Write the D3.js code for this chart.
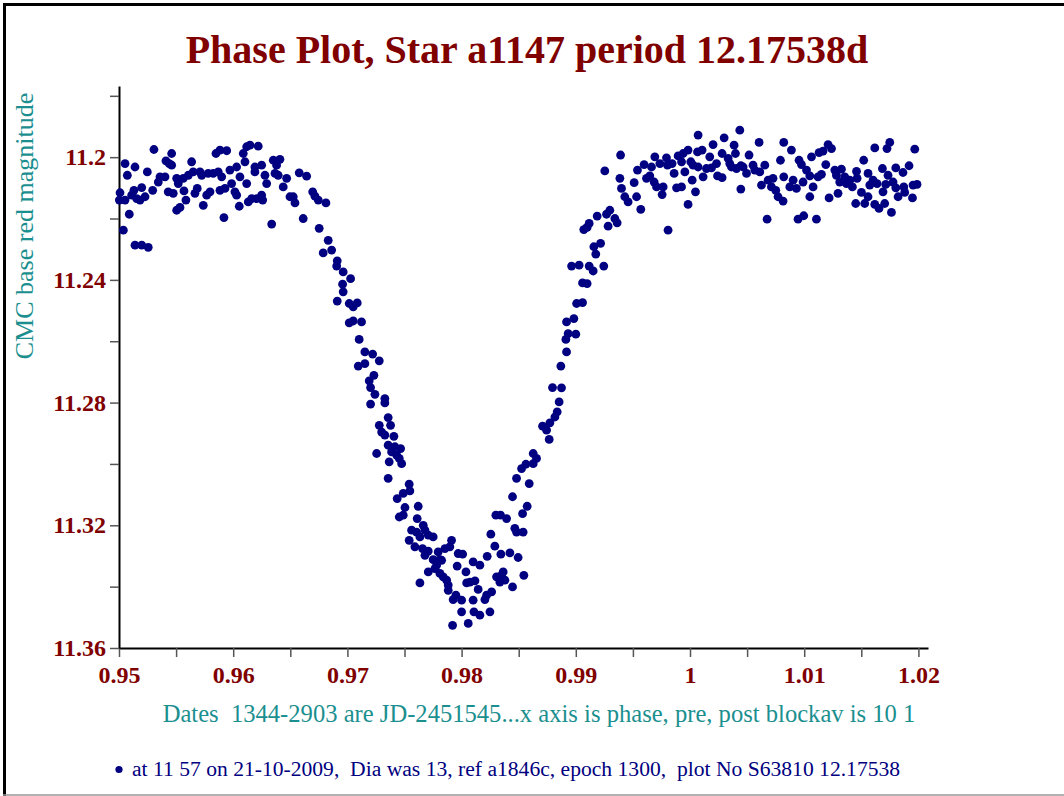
<!DOCTYPE html>
<html>
<head>
<meta charset="utf-8">
<script src="https://cdn.jsdelivr.net/npm/d3@7"></script>
<style>
    body { margin: 0; background: #fff; overflow: hidden; }
    svg { display: block; }
    text { font-family: "Liberation Serif", "Times New Roman", serif; }
</style>
</head>
<body>
<svg id="chart"></svg>
<script>
    const width = 1064;
    const height = 796;

    const title = "Phase Plot, Star a1147 period 12.17538d";
    const yLabel = "CMC base red magnitude";
    const xLabel = "Dates  1344-2903 are JD-2451545...x axis is phase, pre, post blockav is 10 1";
    const footer = "at 11 57 on 21-10-2009,  Dia was 13, ref a1846c, epoch 1300,  plot No S63810 12.17538";

    const xTicks = [0.95, 0.955, 0.96, 0.965, 0.97, 0.975, 0.98, 0.985, 0.99, 0.995, 1, 1.005, 1.01, 1.015, 1.02];
    const xTickLabels = ["0.95", "0.96", "0.97", "0.98", "0.99", "1", "1.01", "1.02"];
    const yTicks = [11.18, 11.2, 11.22, 11.24, 11.26, 11.28, 11.3, 11.32, 11.34, 11.36];
    const yTickLabels = ["11.2", "11.24", "11.28", "11.32", "11.36"];

    // [phase, magnitude]
    const plateauLeft = [
        [0.95009,11.2116],[0.95003,11.2140],[0.95053,11.2140],[0.95038,11.2238],[0.95053,11.2021],[0.95073,11.2059],
        [0.9509,11.2186],[0.95111,11.2124],[0.9514,11.2032],[0.95131,11.2108],[0.95155,11.2135],[0.95184,11.2140],
        [0.95199,11.2099],[0.95228,11.2129],[0.95248,11.2048],[0.95295,11.2108],[0.95306,11.1975],[0.95344,11.2081],
        [0.95359,11.2064],[0.95403,11.2064],[0.95411,11.2012],[0.9544,11.2021],[0.95461,11.1988],[0.95461,11.2026],
        [0.95431,11.2113],[0.95475,11.2118],[0.9514,11.2287],[0.95199,11.2287],[0.95256,11.2294],[0.95505,11.2069],
        [0.95519,11.2086],[0.95505,11.2173],[0.95534,11.2164],[0.95563,11.2069],[0.95569,11.211],[0.95586,11.214],
        [0.95607,11.2059],[0.95636,11.2015],[0.9565,11.2048],[0.95665,11.2118],[0.95685,11.2102],[0.95709,11.2048],
        [0.95724,11.2059],[0.95738,11.2157],[0.95768,11.2124],[0.95781,11.2053],[0.95797,11.2113],[0.95825,11.2053],
        [0.95849,11.1988],[0.95869,11.2048],[0.95884,11.1977],[0.95899,11.2064],[0.95884,11.2108],[0.95919,11.2197],
        [0.95943,11.1979],[0.95928,11.2102],[0.95971,11.2042],[0.95986,11.2086],[0.96015,11.2113],[0.9603,11.2032],
        [0.9603,11.2124],[0.96053,11.216],[0.96059,11.2064],[0.96088,11.1988],[0.96103,11.2015],[0.96118,11.2086],
        [0.96118,11.1966],[0.96147,11.1961],[0.96132,11.2146],[0.96162,11.2135],[0.9619,11.2032],[0.9619,11.2048],
        [0.96219,11.1964],[0.96205,11.2135],[0.96249,11.2026],[0.96249,11.2124],[0.96258,11.214],[0.96278,11.2059],
        [0.96293,11.2086],[0.96337,11.2218],[0.96351,11.201],[0.96366,11.2053],[0.9638,11.2026],[0.96409,11.2007],
        [0.96394,11.2059],[0.96438,11.2097],[0.96468,11.2069],[0.96497,11.2129],[0.96526,11.2129],[0.96541,11.2149],
        [0.96578,11.2051],[0.96643,11.2062],[0.96613,11.22],[0.96696,11.2113],[0.96716,11.2127],[0.96753,11.2232],
        [0.96812,11.2149],[0.96832,11.2271],[0.96788,11.2312],[0.96745,11.214]
    ];

    const descent = [
        [0.96862,11.2303],[0.96911,11.2338],[0.96906,11.2355],[0.96963,11.2374],[0.97028,11.2396],[0.96958,11.2414],
        [0.96963,11.2439],[0.96911,11.2469],[0.97016,11.2477],[0.97051,11.2488],[0.97086,11.2475],[0.97051,11.2534],
        [0.97016,11.254],[0.97124,11.2537],[0.97103,11.2594],[0.97153,11.2635],[0.97221,11.2642],[0.97279,11.2664],
        [0.97153,11.2673],[0.97095,11.2681],[0.97232,11.2711],[0.97191,11.2729],[0.97203,11.2751],[0.97241,11.2773],
        [0.97328,11.2787],[0.97328,11.2801],[0.97203,11.2805],[0.97357,11.2849]
    ];

    const minimum = [
        [0.97378,11.2874],[0.97279,11.2874],[0.973,11.2896],[0.97328,11.2906],[0.97407,11.291],[0.97357,11.2939],
        [0.97416,11.2944],[0.97466,11.295],[0.97256,11.2966],[0.97387,11.2961],[0.97431,11.2971],[0.97454,11.2982],
        [0.97366,11.2993],[0.97475,11.2999],[0.97357,11.3047],[0.97541,11.3066],[0.97547,11.3088],[0.97489,11.3096],
        [0.97436,11.3113],[0.97504,11.3142],[0.9762,11.3138],[0.97454,11.3173],[0.97489,11.3167],[0.97611,11.3178],
        [0.97664,11.32],[0.97562,11.3216],[0.97606,11.3222],[0.97679,11.3216],[0.97708,11.3232],[0.97751,11.3238],
        [0.97635,11.3238],[0.97541,11.3249],[0.97591,11.327],[0.97658,11.3276],[0.97708,11.3284],[0.97679,11.3298],
        [0.97795,11.3287],[0.97854,11.3276],[0.97912,11.3249],[0.97897,11.327],[0.97751,11.3312],[0.9781,11.3312],
        [0.97781,11.333],[0.97825,11.3314],[0.97708,11.3352],[0.97766,11.3341],[0.9781,11.3357],[0.97839,11.3368],
        [0.97869,11.3379],[0.97635,11.3388],[0.97883,11.3395],[0.97883,11.3412],[0.9795,11.3428],[0.97926,11.3442],
        [0.98,11.3444],[0.98,11.3482],[0.97921,11.3526],[0.98058,11.352],[0.98101,11.3444],[0.98108,11.3482],
        [0.9816,11.3493],[0.98145,11.3409],[0.98204,11.3442],[0.98219,11.3428],[0.98248,11.3482],[0.98263,11.3417],
        [0.98044,11.3388],[0.98073,11.3385],[0.98117,11.3381],[0.98038,11.3352],[0.97961,11.3333],[0.9797,11.3292],
        [0.98009,11.3294],[0.98101,11.3319],[0.9816,11.333],[0.98224,11.3301],[0.98291,11.3268],[0.98344,11.3294],
        [0.98256,11.3229],[0.983,11.3167],[0.98341,11.3167],[0.98394,11.3178],[0.98306,11.3368],[0.9835,11.3363],
        [0.98364,11.3352],[0.98335,11.3385],[0.98379,11.3379],[0.98446,11.3401],[0.98423,11.329],[0.98495,11.3305],
        [0.98545,11.3363],[0.98466,11.321],[0.98481,11.3222],[0.98539,11.3222],[0.98534,11.3162],[0.98574,11.3138],
        [0.98446,11.3107],[0.98481,11.3047],[0.98592,11.3064],[0.98525,11.3015],[0.98563,11.3001],[0.98627,11.2966],
        [0.98627,11.2999],[0.98656,11.2982]
    ];

    const ascent = [
        [0.99392,11.1993],[0.99254,11.2045],[0.99386,11.2069],[0.994,11.2102],[0.99429,11.2129],[0.99458,11.2146],
        [0.99298,11.2173],[0.99269,11.2186],[0.99187,11.2192],[0.99342,11.22],[0.99362,11.2214],[0.99283,11.2225],
        [0.99117,11.2216],[0.9907,11.2236],[0.99099,11.2229],[0.99217,11.2281],[0.99158,11.2292],[0.99175,11.2316],
        [0.98963,11.2355],[0.99029,11.2352],[0.99117,11.2355],[0.99152,11.2371],[0.99245,11.2355],[0.99059,11.241],
        [0.99099,11.2412],[0.99007,11.2477],[0.99059,11.2474],[0.98919,11.2537],[0.98983,11.2526],[0.98933,11.2575],
        [0.99,11.2577],[0.98913,11.2594],[0.98919,11.2635],[0.98869,11.2681],[0.98796,11.2751],[0.98875,11.2752],
        [0.98854,11.2798],[0.98837,11.283],[0.98817,11.2847],[0.98773,11.2866],[0.98709,11.2877],[0.98744,11.289],
        [0.98767,11.292]
    ];

    const plateauRight = [
        [0.99808,11.2238],[0.99532,11.2129],[0.99569,11.217],[0.99511,11.2083],[0.9954,11.2042],[0.99598,11.2024],
        [0.99619,11.2069],[0.99648,11.2061],[0.99663,11.2032],[0.99692,11.1999],[0.99686,11.2081],[0.99707,11.2097],
        [0.99765,11.2097],[0.99756,11.2122],[0.99736,11.2021],[0.99794,11.2002],[0.99803,11.2026],[0.99843,11.2021],
        [0.99861,11.2053],[0.99882,11.21],[0.99926,11.2097],[0.99896,11.1996],[0.9994,11.1988],[0.99926,11.2015],
        [0.99955,11.2048],[0.99983,11.2154],[0.99983,11.1977],[1.00007,11.2015],[1.00027,11.2026],[1.00019,11.2075],
        [1.00048,11.2113],[1.00071,11.1928],[1.00066,11.1983],[1.00106,11.1977],[1.00071,11.2032],[1.00115,11.2064],
        [1.00144,11.2037],[1.00173,11.1999],[1.00202,11.1959],[1.00188,11.2035],[1.00232,11.2021],[1.00241,11.2061],
        [1.00281,11.2067],[1.00281,11.1988],[1.00299,11.1937],[1.00334,11.2004],[1.00348,11.2021],[1.00363,11.2032],
        [1.00386,11.1961],[1.00398,11.1988],[1.00436,11.1912],[1.00407,11.2037],[1.00445,11.2028],[1.00445,11.2104],
        [1.00517,11.1993],[1.00465,11.2032],[1.00495,11.2053],[1.00552,11.2026],[1.00567,11.2042],[1.00605,11.1952],
        [1.00611,11.2048],[1.00655,11.2026],[1.00626,11.2091],[1.00684,11.2075],[1.00727,11.2069],[1.00713,11.2097],
        [1.00751,11.2108],[1.00771,11.2129],[1.00815,11.2143],[1.00675,11.2202],[1.00792,11.201],[1.00821,11.1952],
        [1.00888,11.1977],[1.00821,11.2064],[1.00874,11.2097],[1.00903,11.2075],[1.00932,11.2102],[1.00955,11.201],
        [1.00976,11.2024],[1.0099,11.2081],[1.00946,11.2202],[1.00996,11.2191],[1.0102,11.2042],[1.01049,11.2061],
        [1.01064,11.1999],[1.01049,11.2129],[1.01078,11.2097],[1.01107,11.2202],[1.0113,11.1985],[1.01121,11.2064],
        [1.01151,11.2056],[1.01165,11.198],[1.01189,11.2024],[1.01209,11.1959],[1.01239,11.1972],[1.01218,11.2133],
        [1.01268,11.2042],[1.01282,11.2059],[1.01296,11.2118],[1.01311,11.2081],[1.01326,11.2039],[1.01355,11.2064],
        [1.0137,11.2086],[1.01399,11.2075],[1.01422,11.2097],[1.01458,11.2046],[1.01451,11.2151],[1.01463,11.2069],
        [1.01501,11.2115],[1.01521,11.201],[1.0153,11.2151],[1.01559,11.2053],[1.01574,11.2091],[1.01559,11.2129],
        [1.01603,11.2075],[1.01618,11.2154],[1.01618,11.197],[1.01638,11.2086],[1.01655,11.2167],[1.01685,11.2037],
        [1.0169,11.2113],[1.01705,11.2151],[1.01714,11.2089],[1.01734,11.2059],[1.01725,11.1972],[1.01749,11.1952],
        [1.01764,11.218],[1.01778,11.2081],[1.01802,11.2035],[1.01802,11.21],[1.01822,11.2129],[1.01865,11.205],
        [1.01872,11.2097],[1.0188,11.2115],[1.01918,11.2028],[1.01953,11.2091],[1.01948,11.2133],[1.01968,11.1974],
        [1.01988,11.2089]
    ];

    const points = plateauLeft.concat(descent, minimum, ascent, plateauRight);

    const maroon = "#800000";
    const teal = "#1b8f8f";
    const navy = "#000080";

    const svg = d3.select('#chart')
        .attr('width', width).attr('height', height)
        .style('background', '#fff');

    // frame lines
    svg.append('line').attr('x1', 4.5).attr('x2', 4.5).attr('y1', 3).attr('y2', height)
        .attr('stroke', '#000').attr('stroke-width', 3);
    svg.append('line').attr('x1', 3).attr('x2', width).attr('y1', 4.5).attr('y2', 4.5)
        .attr('stroke', '#000').attr('stroke-width', 3);
    svg.append('line').attr('x1', 3).attr('x2', width).attr('y1', 795).attr('y2', 795)
        .attr('stroke', '#999').attr('stroke-width', 1.5);

    const x = d3.scaleLinear().domain([0.95, 1.02084]).range([119, 928]);
    const y = d3.scaleLinear().domain([11.1768, 11.36]).range([86, 648]);

    const labelFor = (list) => (d) => {
        const found = list.find(s => Math.abs(+s - d) < 1e-9);
        return found || "";
    };

    const xAxis = svg.append('g')
        .attr('transform', `translate(0,${y.range()[1]})`)
        .call(d3.axisBottom(x).tickValues(xTicks).tickSize(9).tickSizeOuter(0).tickPadding(9)
            .tickFormat(labelFor(xTickLabels)));

    const yAxis = svg.append('g')
        .attr('transform', `translate(${x.range()[0]},0)`)
        .call(d3.axisLeft(y).tickValues(yTicks).tickSize(9).tickSizeOuter(0).tickPadding(4)
            .tickFormat(labelFor(yTickLabels)));

    [xAxis, yAxis].forEach(g => {
        g.attr('font-family', null).attr('font-size', null);
        g.select('.domain').attr('stroke', '#000').attr('stroke-width', 2);
        g.selectAll('.tick line').attr('stroke', '#555').attr('stroke-width', 1.5);
        g.selectAll('.tick text')
            .attr('fill', maroon)
            .style('font-size', '24px')
            .style('font-weight', 'bold');
    });

    svg.append('g')
        .selectAll('circle')
        .data(points)
        .enter().append('circle')
        .attr('cx', d => x(d[0]))
        .attr('cy', d => y(d[1]))
        .attr('r', 4.4)
        .attr('fill', navy);

    svg.append('text')
        .attr('x', 527).attr('y', 63)
        .attr('text-anchor', 'middle')
        .attr('fill', maroon)
        .style('font-size', '40px')
        .style('font-weight', 'bold')
        .text(title);

    svg.append('text')
        .attr('transform', 'translate(33,226) rotate(-90)')
        .attr('text-anchor', 'middle')
        .attr('fill', teal)
        .style('font-size', '26px')
        .text(yLabel);

    svg.append('text')
        .attr('x', 539).attr('y', 722)
        .attr('text-anchor', 'middle')
        .attr('fill', teal)
        .style('font-size', '24.6px')
        .style('white-space', 'pre')
        .text(xLabel);

    svg.append('circle')
        .attr('cx', 119).attr('cy', 769.5).attr('r', 3.6)
        .attr('fill', navy);

    svg.append('text')
        .attr('x', 132).attr('y', 776)
        .attr('fill', navy)
        .style('font-size', '21.6px')
        .style('white-space', 'pre')
        .text(footer);
</script>
</body>
</html>
